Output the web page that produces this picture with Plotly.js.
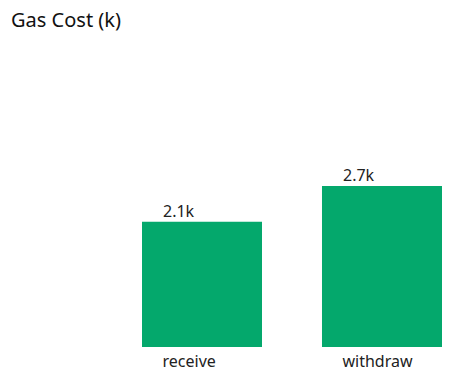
<!DOCTYPE html>
<html><head><meta charset="utf-8">
<script src="https://cdn.plot.ly/plotly-3.0.1.min.js"></script>
<style>body{margin:0;}#chart{width:466px;height:382px;}</style>
</head><body><div id="chart"></div>
<script>
const categories = ['receive', 'withdraw'];
const gasCostK = [2.1, 2.7];
const valueLabels = ['2.1k', '2.7k'];

const FONT = '"Segoe UI", "Noto Sans", sans-serif';
const trace = {
  type: 'bar', x: categories, y: gasCostK,
  width: 0.6667,
  marker: {color: '#04a86c'},
  hoverinfo: 'none'
};
const annotations = categories.map((c, i) => ({
  x: c, y: gasCostK[i], xref: 'x', yref: 'y',
  text: valueLabels[i], showarrow: false,
  xanchor: 'left', yanchor: 'bottom', xshift: -41, yshift: -2,
  font: {family: FONT, size: 16, color: '#222'}
}));
const layout = {
  width: 466, height: 382,
  margin: {l: 112, r: 0, t: 40, b: 35},
  paper_bgcolor: '#fff', plot_bgcolor: '#fff',
  title: {text: 'Gas Cost (k)', x: 11/466, xanchor: 'left', xref: 'container', y: 0.965, yanchor: 'top',
          font: {family: FONT, size: 20, color: '#111'}},
  xaxis: {type: 'category', range: [-0.5, 1.4667], showgrid: false, zeroline: false, showline: false,
          ticks: 'outside', ticklen: 10, tickcolor: 'rgba(0,0,0,0)',
          ticklabelposition: 'outside right', ticklabelshift: -40,
          tickfont: {family: FONT, size: 16, color: '#222'}},
  yaxis: {range: [0, 5.15], visible: false, showgrid: false, zeroline: false},
  annotations: annotations,
  showlegend: false
};
Plotly.newPlot('chart', [trace], layout, {displayModeBar: false, staticPlot: true});
</script></body></html>
